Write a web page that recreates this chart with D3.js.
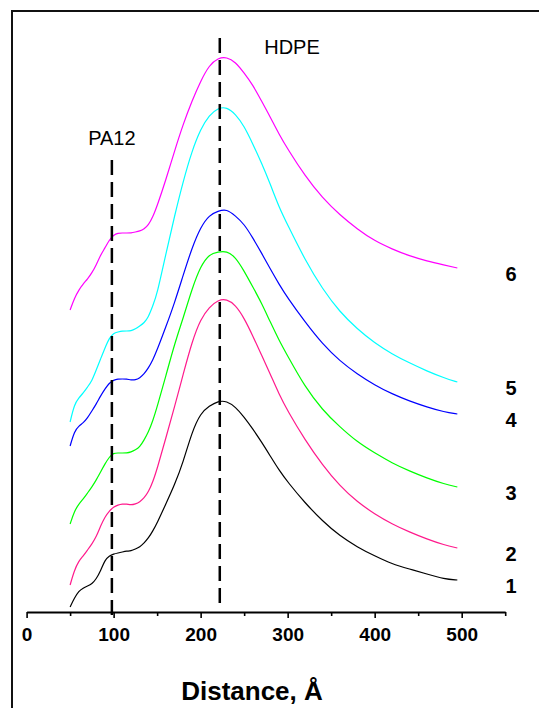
<!DOCTYPE html>
<html>
<head>
<meta charset="utf-8">
<script src="https://cdn.jsdelivr.net/npm/d3@7"></script>
<style>
  html, body { margin: 0; padding: 0; background: #fff; }
  svg { display: block; }
</style>
</head>
<body>
<svg id="chart" width="539" height="708"></svg>
<script>
// Scattering profiles vs. distance (Å), curves offset vertically (a.u.)
const distance = [50, 55, 60, 65, 70, 75, 80, 85, 90, 95,
                  100, 105, 110, 115, 120, 125, 130, 135, 140, 145,
                  150, 160, 170, 180, 190, 200, 210, 220, 230, 240,
                  250, 260, 270, 280, 290, 300, 320, 340, 360, 380,
                  400, 420, 440, 460, 480, 495];

const curve1 = [5, 14, 21, 24, 26, 28, 33, 41, 52, 56,
                58, 59, 60, 61, 61, 63, 65, 69, 74, 81,
                89, 108, 127, 150, 180, 199, 206, 211, 211, 205,
                195, 183, 170, 156, 142, 130, 109, 91, 76, 65,
                56, 48, 43, 38, 33, 32];
const curve2 = [27, 42, 51, 56, 62, 68, 75, 86, 95, 101,
                105, 107, 108, 108, 107, 108, 110, 114, 120, 130,
                143, 174, 205, 238, 270, 293, 305, 312, 313, 307,
                294, 276, 257, 238, 218, 201, 172, 147, 126, 110,
                98, 88, 80, 73, 67, 64];
const curve3 = [88, 101, 108, 113, 119, 125, 132, 140, 148, 155,
                159, 159, 159, 159, 160, 162, 165, 172, 180, 191,
                205, 236, 268, 294, 323, 346, 358, 360, 361, 355,
                341, 325, 309, 290, 272, 256, 225, 202, 185, 170,
                159, 149, 141, 134, 128, 125];
const curve4 = [166, 181, 186, 189, 194, 201, 208, 216, 223, 229,
                232, 233, 233, 233, 232, 232, 234, 238, 244, 252,
                262, 285, 309, 337, 364, 385, 397, 401, 403, 396,
                388, 374, 359, 343, 328, 314, 290, 268, 251, 238,
                227, 218, 211, 205, 200, 198];
const curve5 = [190, 208, 214, 219, 225, 231, 242, 253, 264, 274,
                279, 280, 281, 281, 281, 283, 286, 289, 295, 306,
                318, 358, 396, 431, 461, 483, 497, 504, 505, 498,
                486, 468, 449, 428, 405, 387, 352, 323, 300, 283,
                269, 258, 249, 241, 234, 230];
const curve6 = [302, 314, 322, 328, 333, 339, 347, 357, 364, 372,
                377, 379, 379, 379, 379, 380, 381, 383, 387, 395,
                406, 432, 461, 488, 511, 531, 547, 554, 555, 550,
                539, 527, 511, 495, 478, 463, 436, 414, 397, 383,
                371, 363, 356, 351, 347, 344];

const seriesNames = ["1", "2", "3", "4", "5", "6"];
const seriesColors = ["#000000", "#ff1a8c", "#00ff00", "#0000ff", "#00ffff", "#ff00ff"];
const seriesValues = [curve1, curve2, curve3, curve4, curve5, curve6];

// Reference positions of the two characteristic long periods
const peakNames = ["PA12", "HDPE"];
const peakPositions = [98, 222];

const majorTicks = [0, 100, 200, 300, 400, 500];
const minorTicks = [50, 150, 250, 350, 450, 550];

const svg = d3.select("#chart");
const FONT = "Arial, 'Liberation Sans', Helvetica, sans-serif";

const x = d3.scaleLinear().domain([0, 550]).range([26.6, 505.2]);
const y = d3.scaleLinear().domain([0, 600]).range([612, 12]);

// outer frame (left and top edges)
svg.append("path")
  .attr("d", "M12,708 V11 H539")
  .attr("fill", "none")
  .attr("stroke", "#111")
  .attr("stroke-width", 2);

// curves
const line = d3.line()
  .x((d, i) => x(distance[i]))
  .y(d => y(d))
  .curve(d3.curveBasis);

seriesValues.forEach((vals, k) => {
  svg.append("path")
    .datum(vals)
    .attr("d", line)
    .attr("fill", "none")
    .attr("stroke", seriesColors[k])
    .attr("stroke-width", 1.2)
    .attr("stroke-linejoin", "round");
});

// dashed reference lines with their labels
const peakTop = [452, 574];
const peakBottom = [-6, 7];
peakPositions.forEach((p, k) => {
  svg.append("line")
    .attr("x1", x(p)).attr("x2", x(p))
    .attr("y1", y(peakTop[k])).attr("y2", y(peakBottom[k]))
    .attr("stroke", "#000")
    .attr("stroke-width", 2.5)
    .attr("stroke-dasharray", "15,7");
});
svg.append("text")
  .attr("x", x(peakPositions[0])).attr("y", 145)
  .attr("text-anchor", "middle")
  .attr("font-family", FONT).attr("font-size", 20)
  .text(peakNames[0]);
svg.append("text")
  .attr("x", 292).attr("y", 54)
  .attr("text-anchor", "middle")
  .attr("font-family", FONT).attr("font-size", 20)
  .text(peakNames[1]);

// series numbers at the right end of each curve
seriesValues.forEach((vals, k) => {
  svg.append("text")
    .attr("x", 511)
    .attr("y", y(vals[vals.length - 1] - 6))
    .attr("dy", "0.36em")
    .attr("text-anchor", "middle")
    .attr("font-family", FONT).attr("font-size", 20).attr("font-weight", "bold")
    .text(seriesNames[k]);
});

// x axis
const axisG = svg.append("g").attr("transform", "translate(0,612)");
axisG.call(d3.axisBottom(x).tickValues(majorTicks).tickSize(6).tickSizeOuter(0).tickPadding(10));
axisG.select(".domain").attr("stroke-width", 2).attr("stroke", "#000");
axisG.selectAll(".tick line").attr("stroke-width", 1.6).attr("stroke", "#000");
axisG.selectAll(".tick text")
  .attr("font-family", FONT).attr("font-size", 19).attr("font-weight", "bold").attr("fill", "#000");

const minorG = svg.append("g").attr("transform", "translate(0,612)");
minorG.call(d3.axisBottom(x).tickValues(minorTicks).tickSize(4).tickSizeOuter(0).tickFormat(""));
minorG.select(".domain").remove();
minorG.selectAll(".tick line").attr("stroke-width", 1.6).attr("stroke", "#000");

svg.append("text")
  .attr("x", 252).attr("y", 700)
  .attr("text-anchor", "middle")
  .attr("font-family", FONT).attr("font-size", 26).attr("font-weight", "bold")
  .text("Distance, Å");
</script>
</body>
</html>
